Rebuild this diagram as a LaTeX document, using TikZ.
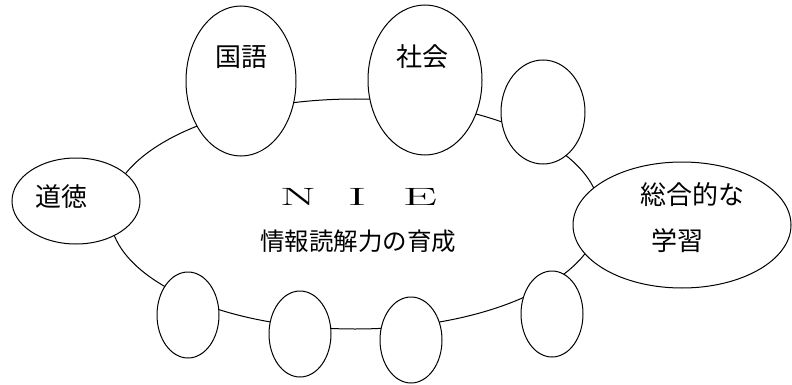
\documentclass[tikz,border=0pt]{standalone}
\usepackage{fontspec}
\usepackage{graphicx}
\newfontfamily\jp{Noto Sans CJK JP}
\usetikzlibrary{shapes.geometric}
\begin{document}
\begin{tikzpicture}[x=1pt,y=-1pt,
  oval/.style={ellipse,draw,line width=1pt,fill=white,inner sep=0pt},
  jplabel/.style={font=\jp\fontsize{26}{30}\selectfont,inner sep=0pt},
  nie/.style={font=\fontsize{25}{30}\selectfont,inner sep=0pt}]
\useasboundingbox (0,0) rectangle (792,385);
% main ellipse
\node[oval,minimum width=490pt,minimum height=230pt] (main) at (355,214) {};
% surrounding ellipses
\node[oval,minimum width=110pt,minimum height=150pt] (kokugo) at (241,81) {};
\node[oval,minimum width=114pt,minimum height=150pt] (shakai) at (425,80) {};
\node[oval,minimum width=84pt,minimum height=104pt] (tr) at (543,112) {};
\node[oval,minimum width=218pt,minimum height=126pt] (sogo) at (682,225) {};
\node[oval,minimum width=128pt,minimum height=86pt] (dotoku) at (76,201) {};
\node[oval,minimum width=62pt,minimum height=86pt] (b1) at (188,315) {};
\node[oval,minimum width=62pt,minimum height=86pt] (b2) at (300,334) {};
\node[oval,minimum width=62pt,minimum height=86pt] (b3) at (411,340) {};
\node[oval,minimum width=62pt,minimum height=86pt] (b4) at (552,314) {};
% labels
\node[jplabel] (tkokugo) at (241,57) {国語};
\node[jplabel] (tshakai) at (422,57) {社会};
\node[jplabel] (tdotoku) at (61,197) {道徳};
\node[jplabel] (tsogo1) at (692,195) {総合的な};
\node[jplabel] (tsogo2) at (677,241) {学習};
\node[nie] (tn) at (298,197) {\scalebox{2.1}[1]{N}};
\node[nie] (ti) at (357,197) {\scalebox{2.3}[1]{I}};
\node[nie] (te) at (420,197) {\scalebox{2.2}[1]{E}};
\node[jplabel,font=\jp\fontsize{24.5}{30}\selectfont] (tmain) at (358,241) {情報読解力の育成};
\end{tikzpicture}
\end{document}
